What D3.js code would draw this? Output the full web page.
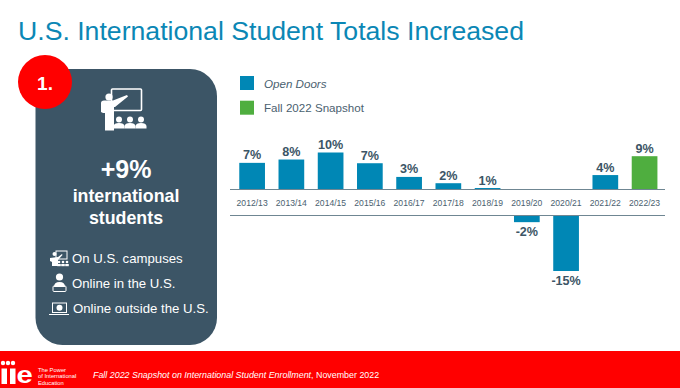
<!DOCTYPE html>
<html>
<head>
<meta charset="utf-8">
<script src="https://d3js.org/d3.v7.min.js"></script>
<style>
  html, body { margin: 0; padding: 0; background: #fff; }
  svg { display: block; font-family: "Liberation Sans", Arial, sans-serif; }
</style>
</head>
<body>
<div id="content"></div>
<script>
const svg_width = 680;
const svg_height = 388;

// chart values
const years = ["2012/13", "2013/14", "2014/15", "2015/16", "2016/17", "2017/18", "2018/19", "2019/20", "2020/21", "2021/22", "2022/23"];
const changes = [7.2, 8.1, 10, 7.1, 3.4, 1.7, 0.4, -1.8, -15, 3.9, 9];
const labels = ["7%", "8%", "10%", "7%", "3%", "2%", "1%", "-2%", "-15%", "4%", "9%"];
const sources = ["Open Doors", "Open Doors", "Open Doors", "Open Doors", "Open Doors", "Open Doors", "Open Doors", "Open Doors", "Open Doors", "Open Doors", "Fall 2022 Snapshot"];
const legendNames = ["Open Doors", "Fall 2022 Snapshot"];
const legendColors = ["#0087b5", "#4fae3f"];
const panelLines = ["On U.S. campuses", "Online in the U.S.", "Online outside the U.S."];

const svg = d3.select("#content")
    .append("svg")
    .attr("width", svg_width)
    .attr("height", svg_height);

const dark = "#3c5566";
const color = d3.scaleOrdinal().domain(legendNames).range(legendColors);

// title
svg.append("text")
    .attr("x", 18)
    .attr("y", 40)
    .attr("fill", "#0b87b5")
    .style("font-size", "26.65px")
    .text("U.S. International Student Totals Increased");

// left panel
svg.append("rect")
    .attr("x", 35.5).attr("y", 69)
    .attr("width", 181.5).attr("height", 276)
    .attr("rx", 27).attr("ry", 27)
    .attr("fill", dark);

svg.append("circle")
    .attr("cx", 45).attr("cy", 82).attr("r", 27)
    .attr("fill", "#ff0000");
svg.append("text")
    .attr("x", 45).attr("y", 90)
    .attr("text-anchor", "middle")
    .attr("fill", "#fff")
    .style("font-size", "19px")
    .style("font-weight", "bold")
    .text("1.");

// teacher icon
const teacher = svg.append("g").attr("fill", "#fff");
teacher.append("rect")
    .attr("x", 111.5).attr("y", 89).attr("width", 30).attr("height", 21.5).attr("rx", 1)
    .attr("fill", "none").attr("stroke", "#fff").attr("stroke-width", 1.6);
teacher.append("circle").attr("cx", 109).attr("cy", 97).attr("r", 3.6);
teacher.append("path").attr("d", "M101 103 Q101 100.5 104 100.5 L113 100.5 L127 95 L128 96.5 L115 107 L114 107 L114 130.5 L105 130.5 L105 113 L103 113 L101 112 Z");
[119, 130, 141].forEach(function(cx) {
    teacher.append("circle").attr("cx", cx).attr("cy", 119.5).attr("r", 3);
    teacher.append("path").attr("d", `M${cx - 5.5} 128.5 L${cx - 5.5} 126 Q${cx - 5} 123 ${cx} 123 Q${cx + 5} 123 ${cx + 5.5} 126 L${cx + 5.5} 128.5 Z`);
});

svg.append("text")
    .attr("x", 126).attr("y", 178)
    .attr("text-anchor", "middle").attr("fill", "#fff")
    .style("font-size", "25px").style("font-weight", "bold")
    .text("+9%");
svg.append("text")
    .attr("x", 126).attr("y", 202)
    .attr("text-anchor", "middle").attr("fill", "#fff")
    .style("font-size", "17.8px").style("font-weight", "bold")
    .text("international");
svg.append("text")
    .attr("x", 126).attr("y", 224)
    .attr("text-anchor", "middle").attr("fill", "#fff")
    .style("font-size", "17.8px").style("font-weight", "bold")
    .text("students");

svg.selectAll(".panelline")
    .data(panelLines)
    .join("text")
    .attr("class", "panelline")
    .attr("x", (d, i) => i == 2 ? 73 : 72)
    .attr("y", (d, i) => [263, 288, 313][i])
    .attr("fill", "#fff")
    .style("font-size", "13.2px")
    .text(d => d);

// small icons next to the panel lines
const small = svg.append("g").attr("fill", "#fff");
small.append("rect").attr("x", 56).attr("y", 251).attr("width", 11).attr("height", 8)
    .attr("fill", "none").attr("stroke", "#fff");
small.append("circle").attr("cx", 54.5).attr("cy", 254).attr("r", 2);
small.append("path").attr("d", "M50 258 L58 257 L62 254 L62.5 255 L58 260 L58 266 L52 266 L52 262 L50 261 Z");
[59, 63, 67].forEach(function(cx) {
    small.append("circle").attr("cx", cx).attr("cy", 262).attr("r", 1.3);
    small.append("rect").attr("x", cx - 1.8).attr("y", 264).attr("width", 3.6).attr("height", 2.2);
});
small.append("circle").attr("cx", 59.5).attr("cy", 277).attr("r", 3.6);
small.append("path").attr("d", "M54 287 Q54 282 59.5 282 Q65 282 65 287 Z");
small.append("rect").attr("x", 53).attr("y", 286).attr("width", 13).attr("height", 5.5).attr("rx", 1)
    .attr("fill", "none").attr("stroke", "#fff");
small.append("rect").attr("x", 52.5).attr("y", 303).attr("width", 14).attr("height", 9.5)
    .attr("fill", "none").attr("stroke", "#fff");
small.append("rect").attr("x", 49).attr("y", 314).attr("width", 20).attr("height", 1);
small.append("circle").attr("cx", 59.5).attr("cy", 307.7).attr("r", 3);

// legend
const legend = svg.selectAll(".legend")
    .data(legendNames)
    .join("g")
    .attr("class", "legend")
    .attr("transform", (d, i) => "translate(240," + (76 + i * 24.7) + ")");
legend.append("rect")
    .attr("width", 14).attr("height", 14)
    .attr("fill", d => color(d));
legend.append("text")
    .attr("x", 24).attr("y", 11.5)
    .attr("fill", "#4a6170")
    .style("font-size", "11.6px")
    .style("font-style", (d, i) => i == 0 ? "italic" : "normal")
    .text(d => d);

// scales
const xScale = d3.scaleBand()
    .domain(years)
    .range([232.5, 664.2])
    .paddingInner(0.345)
    .paddingOuter(0.1725);

const yScale = d3.scaleLinear()
    .domain([0, 10])
    .range([189.5, 152.5]);

// the lower half of the chart starts below the label strip
const stripGap = 26;
function barTop(v) { return v >= 0 ? yScale(v) : yScale(0) + stripGap; }
function barHeight(v) { return Math.abs(yScale(v) - yScale(0)); }

svg.selectAll(".bar")
    .data(years)
    .join("rect")
    .attr("class", "bar")
    .attr("x", d => xScale(d))
    .attr("y", (d, i) => barTop(changes[i]))
    .attr("width", xScale.bandwidth())
    .attr("height", (d, i) => barHeight(changes[i]))
    .attr("fill", (d, i) => color(sources[i]));

// value labels
svg.selectAll(".barlabel")
    .data(years)
    .join("text")
    .attr("class", "barlabel")
    .attr("x", d => xScale(d) + xScale.bandwidth() / 2)
    .attr("y", (d, i) => changes[i] >= 0 ? yScale(changes[i]) - 3.5 : barTop(changes[i]) + barHeight(changes[i]) + 13.5)
    .attr("text-anchor", "middle")
    .attr("fill", dark)
    .style("font-size", "12.6px")
    .style("font-weight", "bold")
    .text((d, i) => labels[i]);

// upper axis with the year labels, and the second line under them
const axis = svg.append("g")
    .attr("transform", "translate(0," + yScale(0) + ")")
    .call(d3.axisBottom(xScale).tickSize(0).tickPadding(10));
axis.select(".domain").remove();
axis.selectAll("text")
    .attr("fill", "#4a6170")
    .style("font-family", "'Liberation Sans', Arial, sans-serif")
    .style("font-size", "8.6px");

[0, stripGap].forEach(function(gap) {
    svg.append("line")
        .attr("x1", 230).attr("x2", 665)
        .attr("y1", yScale(0) + gap).attr("y2", yScale(0) + gap)
        .attr("stroke", "#6f8692")
        .attr("stroke-width", 1.2);
});

// footer
svg.append("rect")
    .attr("x", 0).attr("y", 351)
    .attr("width", svg_width).attr("height", 37)
    .attr("fill", "#ff0000");

const logo = svg.append("g").attr("fill", "#fff");
[3, 8, 13].forEach(function(cx) {
    logo.append("circle").attr("cx", cx).attr("cy", 363).attr("r", 2.2);
});
logo.append("rect").attr("x", 1.5).attr("y", 368.5).attr("width", 5.5).attr("height", 15.5);
logo.append("rect").attr("x", 10).attr("y", 368.5).attr("width", 5.5).attr("height", 15.5);
// stretched sideways so the box of the letter stays inside the page
logo.append("text")
    .attr("transform", "translate(16.5,383) scale(1.27,1)")
    .style("font-size", "23px").style("font-weight", "bold")
    .text("e");
["The Power", "of International", "Education"].forEach(function(t, i) {
    logo.append("text")
        .attr("x", 38).attr("y", 372 + i * 6.3)
        .style("font-size", "5.8px")
        .text(t);
});

const footer = svg.append("text")
    .attr("x", 93).attr("y", 378)
    .attr("fill", "#fff")
    .style("font-size", "8.9px");
footer.append("tspan").style("font-style", "italic").text("Fall 2022 Snapshot on International Student Enrollment");
footer.append("tspan").text(", November 2022");
</script>
</body>
</html>
